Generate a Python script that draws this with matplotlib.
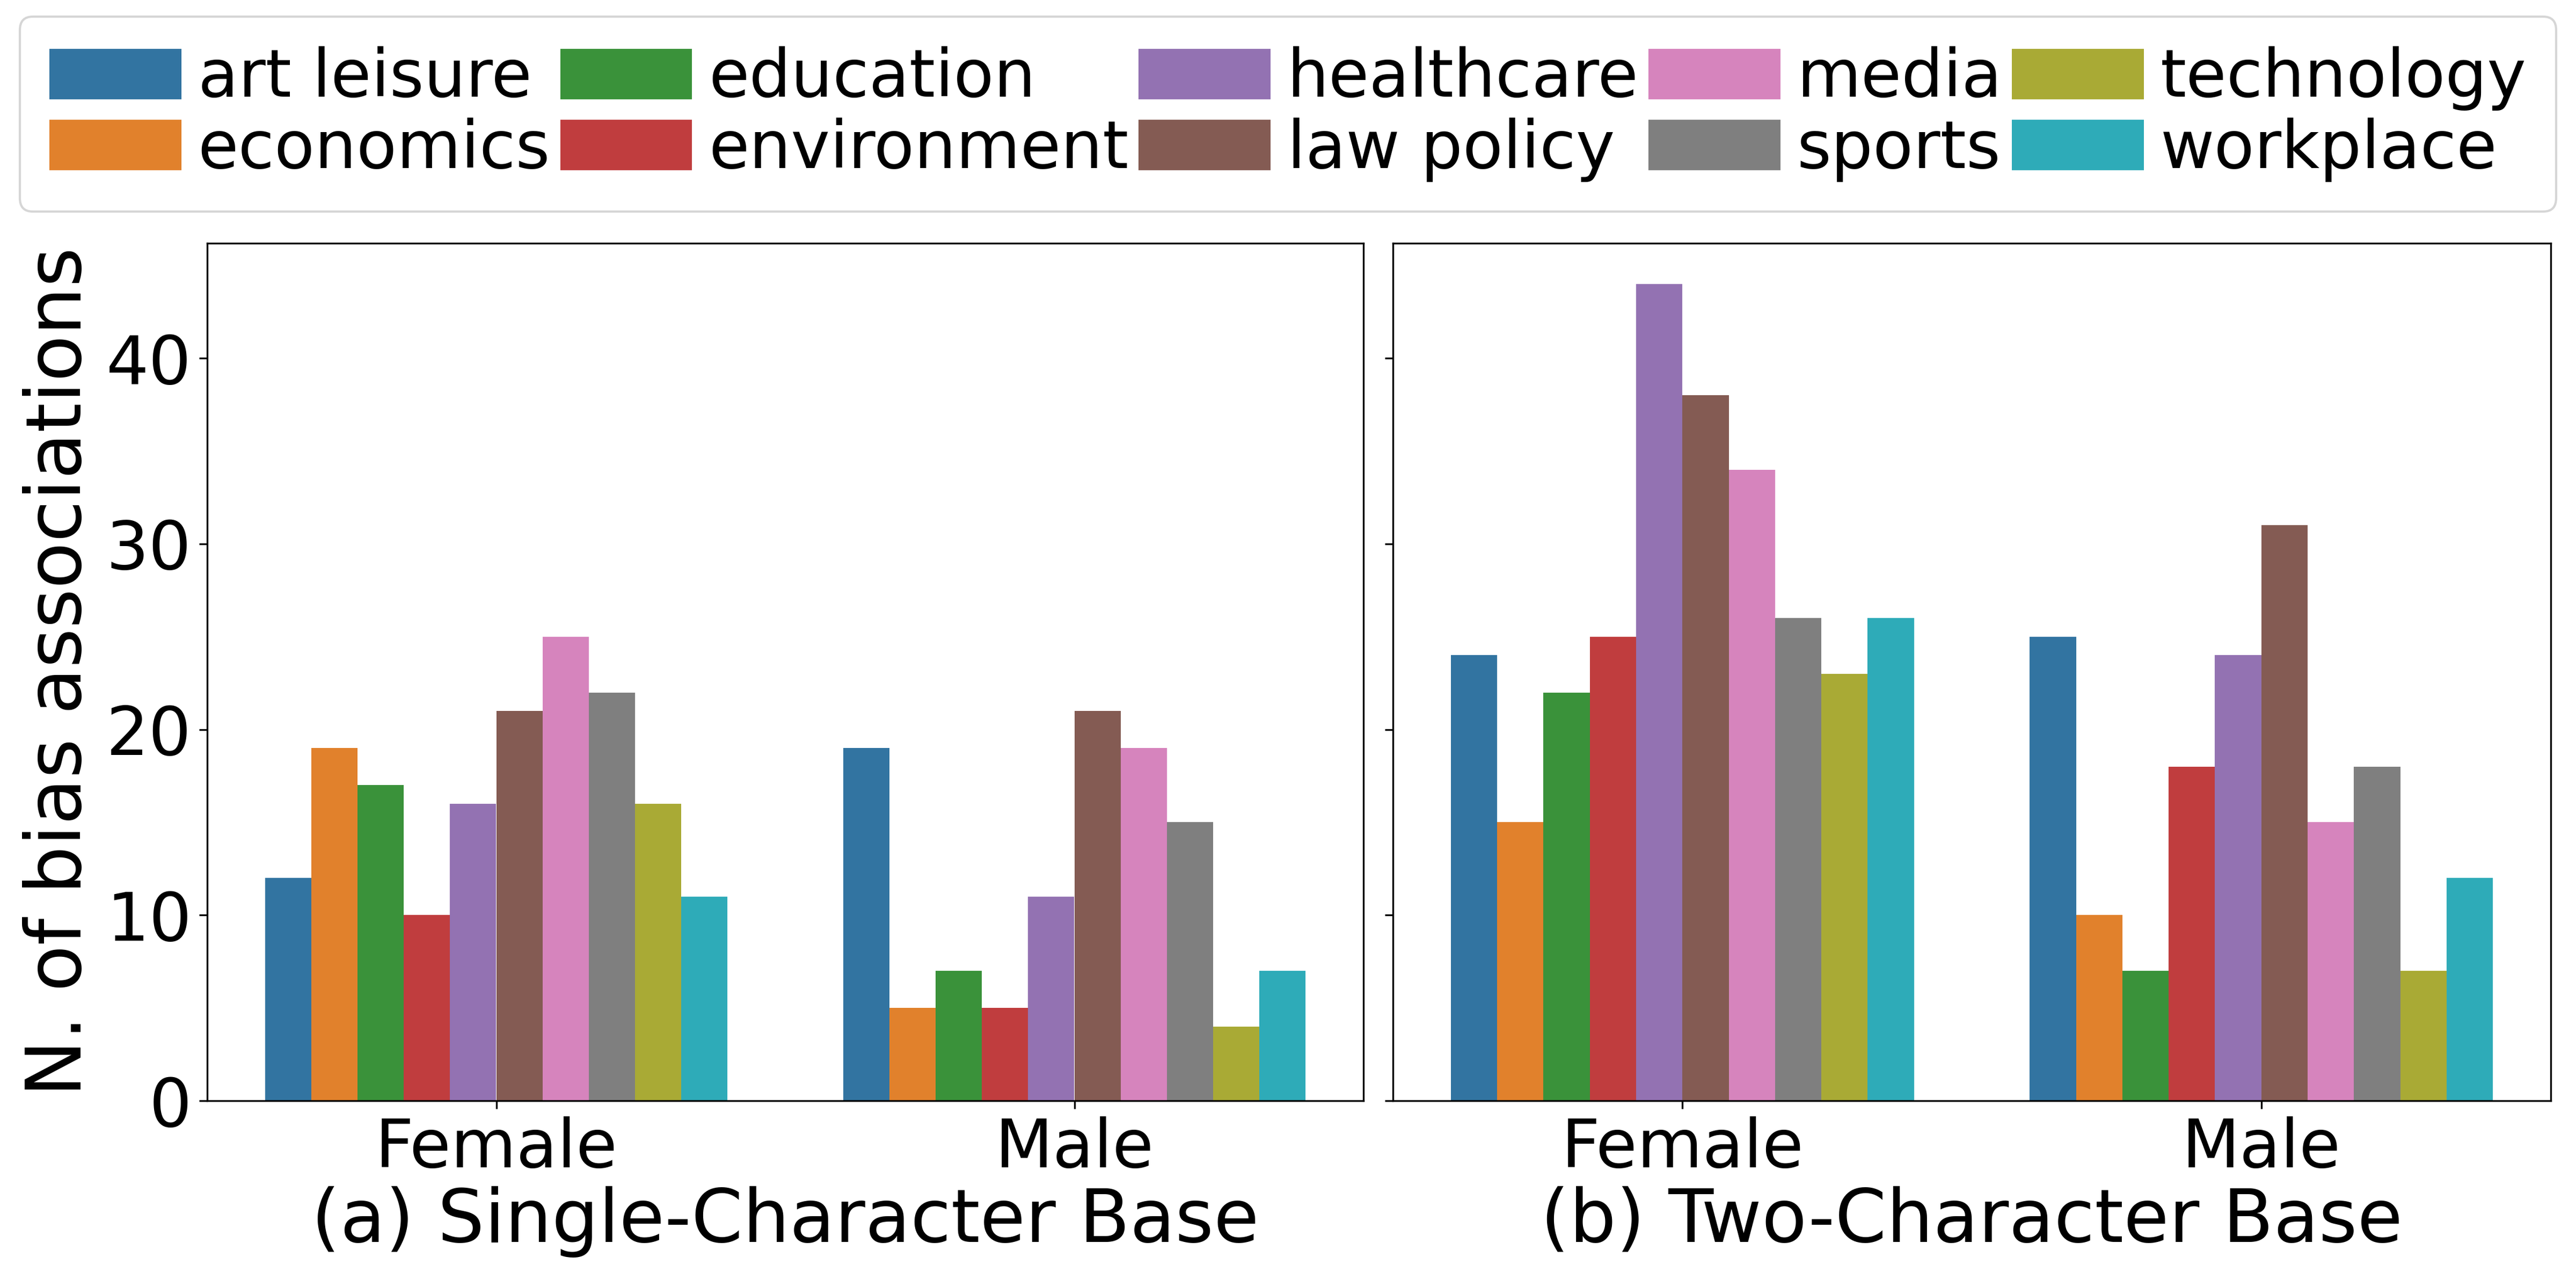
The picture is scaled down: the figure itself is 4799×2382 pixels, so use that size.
import matplotlib
matplotlib.use("Agg")
import matplotlib.pyplot as plt
import numpy as np

categories = ["art leisure", "economics", "education", "environment", "healthcare",
              "law policy", "media", "sports", "technology", "workplace"]
genders = ["Female", "Male"]
single_female = [12, 19, 17, 10, 16, 21, 25, 22, 16, 11]
single_male = [19, 5, 7, 5, 11, 21, 19, 15, 4, 7]
two_female = [24, 15, 22, 25, 44, 38, 34, 26, 23, 26]
two_male = [25, 10, 7, 18, 24, 31, 15, 18, 7, 12]
colors = ["#3274a1", "#e1812c", "#3a923a", "#c03d3e", "#9372b2",
          "#845b53", "#d684bd", "#7f7f7f", "#a9aa35", "#2eabb8"]
panel_titles = ["(a) Single-Character Base", "(b) Two-Character Base"]
yticks = [0, 10, 20, 30, 40]

plt.rcParams['font.family'] = ['DejaVu Sans']

fig = plt.figure(figsize=(4799 / 300, 2382 / 300), dpi=300)
ax1 = fig.add_axes([386 / 4799, 1 - 2050 / 2382, (2540 - 386) / 4799, (2050 - 453) / 2382])
ax2 = fig.add_axes([2595 / 4799, 1 - 2050 / 2382, (4752 - 2595) / 4799, (2050 - 453) / 2382], sharey=ax1)

n = len(categories)
width = 0.8 / n
x = np.arange(len(genders))
handles = []
for ax, (fem, mal), title in zip([ax1, ax2],
                                 [(single_female, single_male), (two_female, two_male)],
                                 panel_titles):
    for i, cat in enumerate(categories):
        vals = [fem[i], mal[i]]
        b = ax.bar(x - 0.4 + width * (i + 0.5), vals, width, color=colors[i], label=cat)
        if ax is ax1:
            handles.append(b)
    ax.set_xlim(-0.5, 1.5)
    ax.set_xticks(x)
    ax.set_xticklabels(genders, fontsize=30)
    ax.set_xlabel(title, fontsize=33, labelpad=2)
    ax.tick_params(axis='y', labelsize=30)

ax1.set_ylim(0, 46.2)
ax1.set_yticks(yticks)
ax1.set_ylabel("N. of bias associations", fontsize=34)
plt.setp(ax2.get_yticklabels(), visible=False)

fig.legend(handles, categories, loc='upper center', bbox_to_anchor=(0.5, 0.987), ncol=5,
           fontsize=29.5, handlelength=2.0, handleheight=0.8, handletextpad=0.25,
           columnspacing=0.15, labelspacing=0.1, borderpad=0.45, borderaxespad=0,
           frameon=True)

fig.savefig("out.png", dpi=300)
